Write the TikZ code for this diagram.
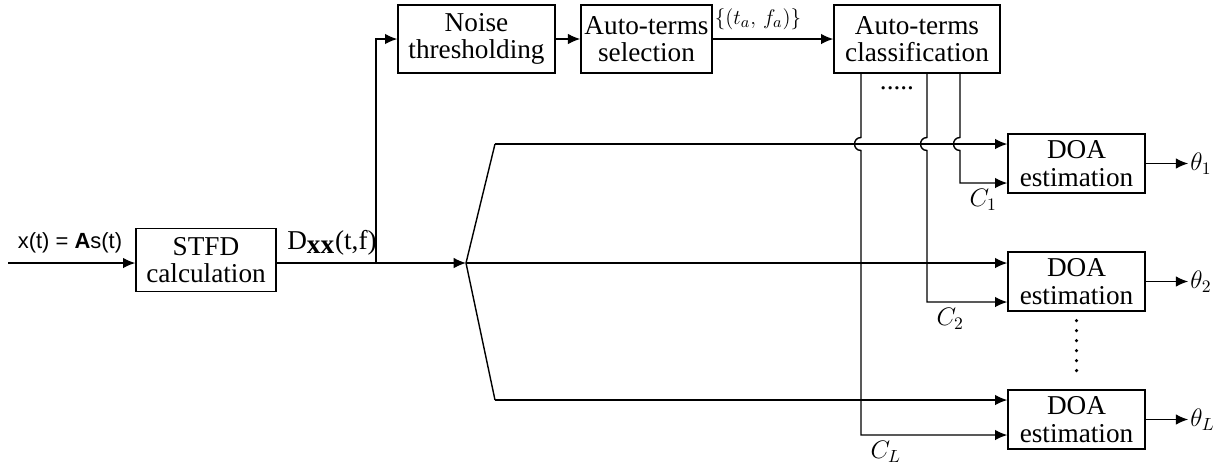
\documentclass[tikz,border=0pt]{standalone}
\usepackage{fontspec}
\setmainfont{Liberation Serif}
\setsansfont{Liberation Sans}
\usetikzlibrary{positioning, arrows.meta}

\tikzset{
  blockbox/.style={draw, line width=0.8pt, align=center, inner sep=2pt},
  sig/.style={line width=0.8pt},
  sigarr/.style={line width=0.8pt, -{Latex[length=7pt,width=6pt]}},
  mathlbl/.style={font=\fontsize{14}{14}\selectfont, inner sep=1pt},
}

\begin{document}
\begin{tikzpicture}[x=0.02cm, y=-0.02cm, font=\fontsize{15.5}{15.5}\selectfont]
\useasboundingbox (0,0) rectangle (1230,468);

% Blocos
\node[blockbox, minimum width=2.8cm, minimum height=1.26cm] (stfd) at (206,260) {STFD\\calculation};
\node[blockbox, minimum width=3.14cm, minimum height=1.36cm] (noise) at (476.5,39) {Noise\\thresholding};
\node[blockbox, minimum width=2.54cm, minimum height=1.36cm] (sel) at (646.5,39) {Auto-terms\\selection};
\node[blockbox, minimum width=3.32cm, minimum height=1.36cm] (cls) at (917,39) {Auto-terms\\classification};
\node[blockbox, minimum width=2.74cm, minimum height=1.18cm] (doa1) at (1076.5,163.5) {DOA\\estimation};
\node[blockbox, minimum width=2.74cm, minimum height=1.18cm] (doa2) at (1076.5,281.5) {DOA\\estimation};
\node[blockbox, minimum width=2.74cm, minimum height=1.18cm] (doaL) at (1076.5,419.5) {DOA\\estimation};

% Pontos auxiliares
\coordinate (in) at (8,263);
\coordinate (tap) at (376,263);
\coordinate (split) at (466,263);
\coordinate (up) at (495,144);
\coordinate (low) at (495,400);
\coordinate (k1) at (960,183);
\coordinate (k2) at (927,302);
\coordinate (kL) at (861,435);

% Entrada e STFD
\node[font=\sffamily\fontsize{12.5}{14}\selectfont] (xin) at (70,243) {x(t) = \textbf{A}s(t)};
\draw[sigarr] (in) -- (in -| stfd.west);
\draw[sigarr] (in -| stfd.east) -- (split);
\node (dxx) at (332,243) {D$_{\textbf{xx}}$(t,f)};

% Ramo superior
\draw[sigarr] (tap) |- (noise.west);
\draw[sigarr] (noise) -- (sel);
\draw[sigarr] (sel) -- (cls);
\node[mathlbl, font=\fontsize{13}{13}\selectfont] (pairs) at (758,19) {$\{(t_a,\,f_a)\}$};
\node (hdots) at (897,88) {.....};

% Divisao para os estimadores
\draw[sig] (up) -- (split) -- (low);
\draw[sigarr] (up) -- (up -| doa1.west);
\draw[sigarr] (split) -- (split -| doa2.west);
\draw[sigarr] (low) -- (low -| doaL.west);

% Classes C_i
\foreach \k/\d/\l in {k1/doa1/1, k2/doa2/2, kL/doaL/L}
  \draw[sigarr] (cls.south -| \k) -- ([yshift=0.13cm]\k |- up)
    to[out=180, in=180, looseness=1.7] ([yshift=-0.13cm]\k |- up)
    -- (\k) node[mathlbl, below right=2pt and 4pt] {$C_{\l}$} -- (\k -| \d.west);

% Saidas
\node[mathlbl, right=0.85cm of doa1] (th1) {$\theta_1$};
\node[mathlbl, right=0.85cm of doa2] (th2) {$\theta_2$};
\node[mathlbl, right=0.85cm of doaL] (thL) {$\theta_L$};
\draw[sigarr] (doa1) -- (th1);
\draw[sigarr] (doa2) -- (th2);
\draw[sigarr] (doaL) -- (thL);

\draw[line width=2pt, line cap=round, dash pattern=on 0pt off 5.67pt]
  ([yshift=-0.18cm]doa2.south) -- ([yshift=0.2cm]doaL.north);

\end{tikzpicture}
\end{document}
